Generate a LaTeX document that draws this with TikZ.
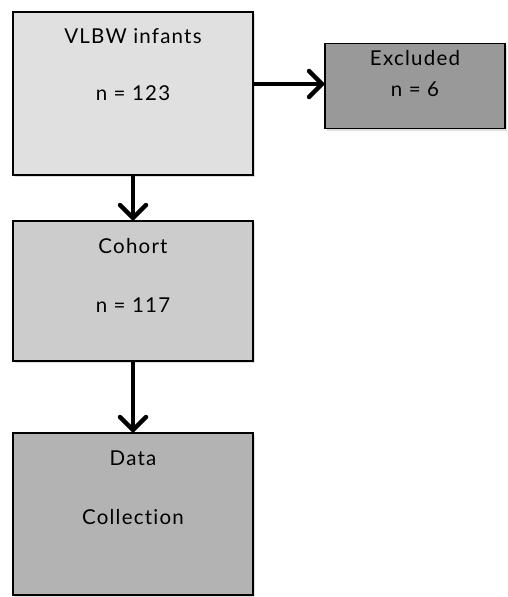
\documentclass[tikz,border=0pt]{standalone}
\usepackage{fontspec}
\setmainfont[LetterSpace=6,Ligatures={NoCommon,NoRare,NoDiscretionary}]{Lato}
\usetikzlibrary{positioning,arrows.meta,shadows}

\definecolor{boxone}{HTML}{E0E0E0}
\definecolor{boxtwo}{HTML}{CCCCCC}
\definecolor{boxthree}{HTML}{B3B3B3}
\definecolor{boxout}{HTML}{999999}

\begin{document}
\begin{tikzpicture}[x=1pt,y=-1pt,
	stagebox/.style={draw=black,line width=1.4pt,minimum width=240pt,inner sep=0pt,
		drop shadow={opacity=0.25,shadow xshift=1.5pt,shadow yshift=-2pt}},
	boxtext/.style={font=\fontsize{20.5}{24}\selectfont,inner sep=0pt},
	flow/.style={line width=4pt,-{Straight Barb[length=13pt,width=26pt,line width=4.5pt,round]}}]
\useasboundingbox (0,0) rectangle (508,597);

\node[stagebox,fill=boxone,minimum height=163pt] (vlbw) at (133,93.5) {};
\node[stagebox,fill=boxout,minimum width=180pt,minimum height=85pt] (excl) at (415,86) {};
\node[stagebox,fill=boxtwo,minimum height=140pt] (coh) at (133,291) {};
\node[stagebox,fill=boxthree,minimum height=162pt] (data) at (133,514) {};

% texts
\foreach \x/\y/\t in {133/36/VLBW infants,133/93/n = 123,415/58/Excluded,415/89/n = 6,
	133/246/Cohort,133/305/n = 117,133/458/Data,133/517/Col\-lection}
	\node[boxtext] at (\x,\y) {\t};

\draw[flow] (vlbw.east |- 0,84) -- (excl.west |- 0,84);
\draw[flow] (vlbw.south) -- (coh.north);
\draw[flow] (coh.south) -- (data.north);
\end{tikzpicture}
\end{document}
